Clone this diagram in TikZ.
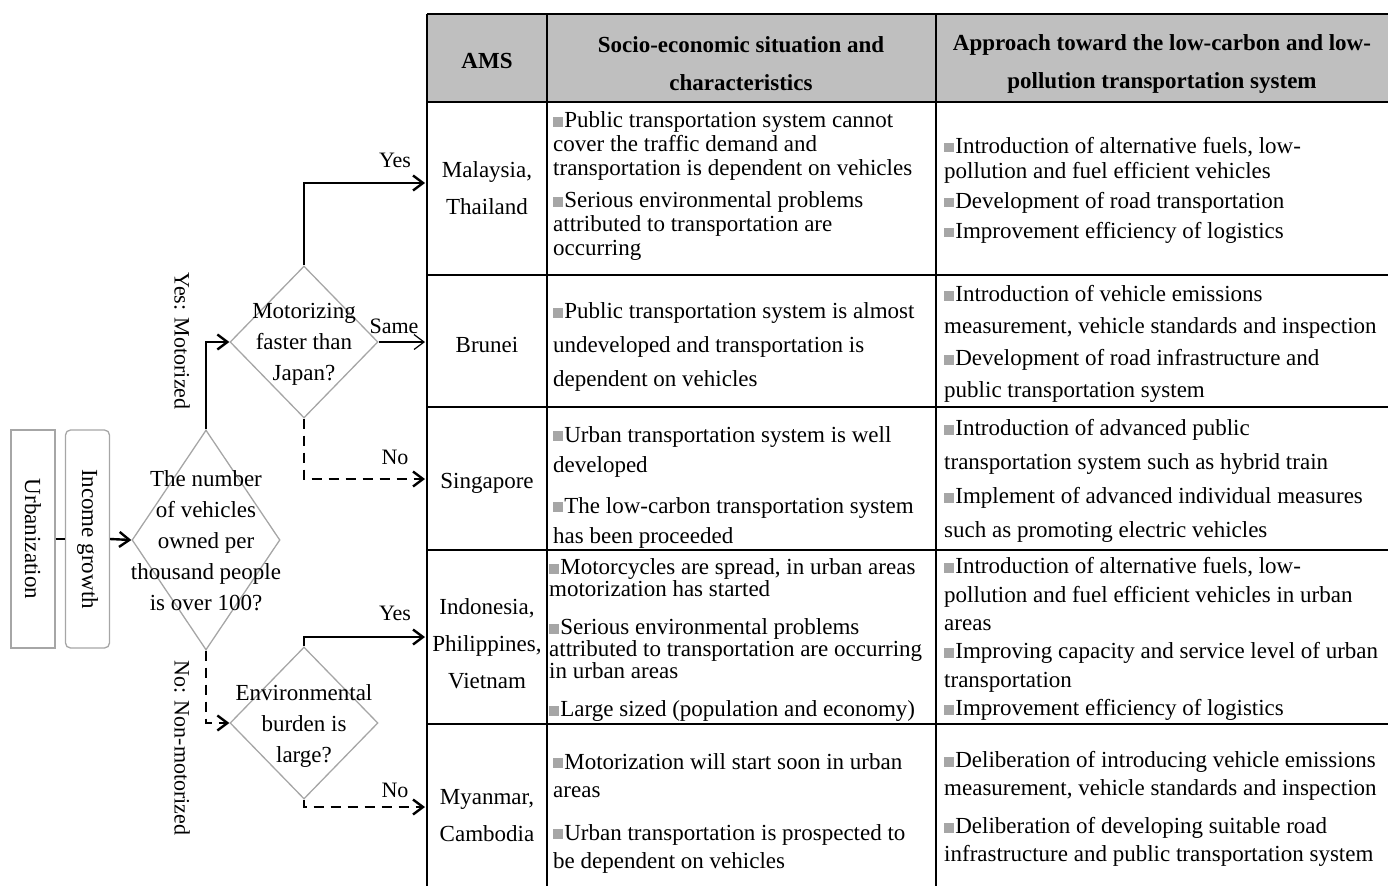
\documentclass[tikz,border=0pt]{standalone}
\usepackage{fontspec}
\setmainfont{Liberation Serif}
\usepackage{graphicx}
\usetikzlibrary{arrows.meta,shapes.geometric}
\definecolor{headgray}{HTML}{BFBFBF}
\definecolor{linegray}{HTML}{A6A6A6}
\newcommand{\bsq}{{\color{linegray}\rule[0.04em]{0.42em}{0.42em}}\kern1.5pt}
\tikzset{
  lsk/.style={font=\fontsize{23}{#1}\selectfont},
  tab/.style={line width=1.8pt},
  head/.style={font=\fontsize{23}{38}\selectfont\bfseries, align=center, inner sep=0pt},
  cty/.style={lsk=37, align=center, inner sep=0pt},
  cell/.style={align=left, anchor=west, inner sep=0pt},
  decision/.style={shape=diamond, draw=linegray, line width=1.3pt, minimum width=148pt, minimum height=152pt, inner sep=0pt},
  qtext/.style={lsk=31, align=center, inner sep=0pt},
  box/.style={draw=linegray, line width=1.3pt, minimum width=44pt, minimum height=218pt, inner sep=0pt, lsk=28},
  lbl/.style={font=\fontsize{22}{26}\selectfont, inner sep=0pt},
  conn/.style={line width=2.4pt, -{Straight Barb[length=10pt,width=15pt]}},
  thinconn/.style={line width=1.2pt, -{Straight Barb[length=10pt,width=15pt]}},
  dsh/.style={dash pattern=on 10pt off 7pt}
}
\begin{document}
\begin{tikzpicture}[x=1pt,y=-1pt]
\useasboundingbox (0,0) rectangle (1388,886);
\fill[headgray] (427,14) rectangle (1388,102);
\foreach \y in {14,102,275,407,550,724} \draw[tab] (427,\y) -- (1388,\y);
\foreach \x in {427,547,936} \draw[tab] (\x,14) -- (\x,886);

\node[head] (hams) at (487,61) {AMS};
\node[head] (hsoc) at (741,64) {Socio-economic situation and\\characteristics};
\node[head] (happ) at (1162,64) {Approach toward the low-carbon and low-\\pollution transportation system};

\node[cty] (c1) at (487,188) {Malaysia,\\Thailand};
\node[cty] (c2) at (487,345) {Brunei};
\node[cty] (c3) at (487,483) {Singapore};
\node[cty] (c4) at (487,644) {Indonesia,\\Philippines,\\Vietnam};
\node[cty] (c5) at (487,816) {Myanmar,\\Cambodia};

\node[cell, lsk=24] (s1) at (553,186) {\bsq Public transportation system cannot\\cover the traffic demand and\\transportation is dependent on vehicles\\[8pt]\bsq Serious environmental problems\\attributed to transportation are\\occurring};
\node[cell, lsk=34] (s2) at (553,347) {\bsq Public transportation system is almost\\undeveloped and transportation is\\dependent on vehicles};
\node[cell, lsk=30] (s3) at (553,487) {\bsq Urban transportation system is well\\developed\\[11pt]\bsq The low-carbon transportation system\\has been proceeded};
\node[cell, lsk=22] (s4) at (549,640) {\bsq Motorcycles are spread, in urban areas\\motorization has started\\[16pt]\bsq Serious environmental problems\\attributed to transportation are occurring\\in urban areas\\[16pt]\bsq Large sized (population and economy)};
\node[cell, lsk=28] (s5) at (553,813) {\bsq Motorization will start soon in urban\\areas\\[15pt]\bsq Urban transportation is prospected to\\be dependent on vehicles};

\node[cell, lsk=25] (a1) at (944,190) {\bsq Introduction of alternative fuels, low-\\pollution and fuel efficient vehicles\\[5pt]\bsq Development of road transportation\\[5pt]\bsq Improvement efficiency of logistics};
\node[cell, lsk=32] (a2) at (944,344) {\bsq Introduction of vehicle emissions\\measurement, vehicle standards and inspection\\\bsq Development of road infrastructure and\\public transportation system};
\node[cell, lsk=34] (a3) at (944,481) {\bsq Introduction of advanced public\\transportation system such as hybrid train\\\bsq Implement of advanced individual measures\\such as promoting electric vehicles};
\node[cell, lsk=28.4] (a4) at (944,639) {\bsq Introduction of alternative fuels, low-\\pollution and fuel efficient vehicles in urban\\areas\\\bsq Improving capacity and service level of urban\\transportation\\\bsq Improvement efficiency of logistics};
\node[cell, lsk=28] (a5) at (944,809) {\bsq Deliberation of introducing vehicle emissions\\measurement, vehicle standards and inspection\\[10pt]\bsq Deliberation of developing suitable road\\infrastructure and public transportation system};

\node[box] (urb) at (33,539) {\rotatebox{-90}{Urbanization}};
\node[box, rounded corners=5pt] (inc) at (87.5,539) {\rotatebox{-90}{Income growth}};

\node[decision, minimum height=220pt] (q1) at (206,540) {};
\node[qtext] (q1t) at (206,541) {The number\\of vehicles\\owned per\\thousand people\\is over 100?};
\node[decision] (q2) at (304,342) {};
\node[qtext] (q2t) at (304,344) {Motorizing\\faster than\\Japan?};
\node[decision] (q3) at (304,723) {};
\node[qtext] (q3t) at (304,726) {Environmental\\burden is\\large?};

\coordinate (e1) at (425,183);
\coordinate (e2) at (425,342);
\coordinate (e3) at (425,479);
\coordinate (e4) at (425,637);
\coordinate (e5) at (425,807);

\draw[line width=2.4pt] (urb.east) -- (inc.west);
\draw[conn] (inc.east) -- (q1.west);
\draw[conn] (q1.north) |- (q2.west);
\draw[conn, dsh] (q1.south) |- (q3.west);
\draw[conn] (q2.north) |- (e1);
\draw[thinconn] (q2.east) -- (e2);
\draw[conn, dsh] (q2.south) |- (e3);
\draw[conn] (q3.north) |- (e4);
\draw[conn, dsh] (q3.south) |- (e5);

\node[lbl] (l1) at (395,160) {Yes};
\node[lbl] (l2) at (394,326) {Same};
\node[lbl] (l3) at (395,457) {No};
\node[lbl] (l4) at (395,613) {Yes};
\node[lbl] (l5) at (395,790) {No};
\node[lbl, rotate=-90] (lm) at (182,341) {Yes: Motorized};
\node[lbl, rotate=-90] (ln) at (182,748) {No: Non-motorized};
\end{tikzpicture}
\end{document}
